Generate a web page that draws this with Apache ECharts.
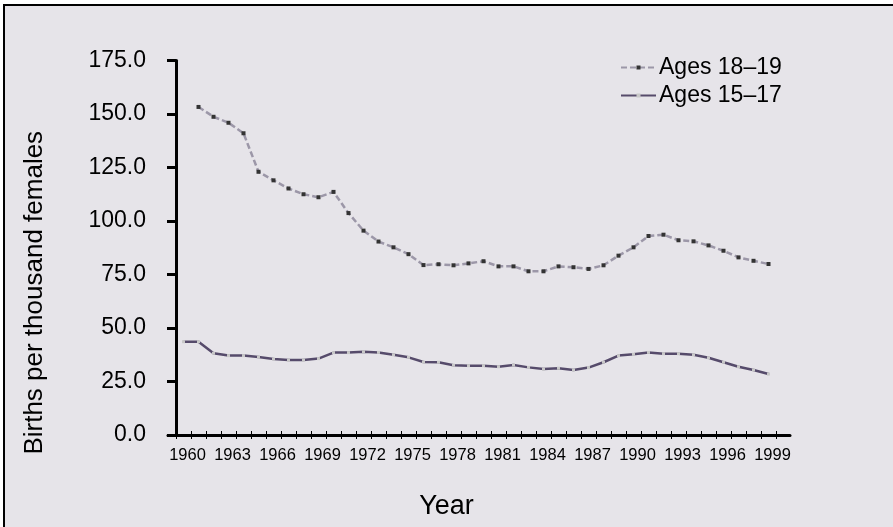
<!DOCTYPE html>
<html>
<head>
<meta charset="utf-8">
<script src="https://cdn.jsdelivr.net/npm/echarts@6/dist/echarts.min.js"></script>
<style>
  html, body { margin: 0; padding: 0; background: #ffffff; }
  #frame { position: absolute; left: 3px; top: 4px; width: 890px; height: 523px; box-sizing: border-box;
           border-top: 2px solid #000; border-left: 2px solid #000; background: #E6E4E9; }
  #chart { position: absolute; left: 0; top: 0; width: 893px; height: 527px; }
</style>
</head>
<body>
<div id="frame"></div>
<div id="chart"></div>
<script>
const years = ["1960","1961","1962","1963","1964","1965","1966","1967","1968","1969",
               "1970","1971","1972","1973","1974","1975","1976","1977","1978","1979",
               "1980","1981","1982","1983","1984","1985","1986","1987","1988","1989",
               "1990","1991","1992","1993","1994","1995","1996","1997","1998","1999"];
const ages1819 = [null,153.3,148.7,145.9,141.0,123.0,119.0,115.2,112.5,111.1,
                  113.6,103.7,95.5,90.4,87.7,84.5,79.4,79.8,79.3,80.2,
                  81.2,78.8,78.8,76.5,76.5,78.8,78.4,77.6,79.3,83.8,
                  87.7,93.0,93.6,91.0,90.5,88.6,86.1,83.0,81.4,79.9];
const ages1517 = [43.6,43.6,38.2,37.1,37.1,36.4,35.5,35.0,35.0,35.7,
                  38.5,38.5,38.9,38.6,37.5,36.3,34.1,34.0,32.6,32.4,
                  32.4,31.9,32.7,31.6,30.8,31.2,30.4,31.5,34.0,37.1,
                  37.7,38.6,38.0,38.0,37.5,36.1,34.0,31.9,30.4,28.5];
const seriesNames = ["Ages 18\u201319", "Ages 15\u201317"];
const yTicks = { min: 0, max: 175, interval: 25 };
const yTitle = "Births per thousand females";
const xTitle = "Year";

const FONT = "Liberation Sans, Arial, sans-serif";
const chart = echarts.init(document.getElementById('chart'), null, { renderer: 'canvas' });
chart.setOption({
  backgroundColor: 'transparent',
  animation: false,
  textStyle: { fontFamily: FONT, color: '#000' },
  title: {
    text: xTitle, left: 'center', top: 493, padding: 0,
    textStyle: { fontFamily: FONT, fontSize: 27, fontWeight: 'normal', color: '#000' }
  },
  legend: {
    data: seriesNames, orient: 'vertical', left: 620, top: 56, padding: 0,
    itemWidth: 35, itemHeight: 5, itemGap: 5,
    textStyle: { fontFamily: FONT, fontSize: 23, color: '#000', padding: [0,0,0,-2] }
  },
  grid: [
    { left: 176, right: 117, top: 60.5, bottom: 92, containLabel: false },
    { left: 168, right: 103, top: 60.5, bottom: 92, containLabel: false }
  ],
  xAxis: [
    {
      type: 'category', data: years, boundaryGap: true, gridIndex: 0,
      axisLine: { show: false },
      axisTick: { show: true, interval: 0, length: 4, lineStyle: { color: '#000', width: 1 } },
      axisLabel: { interval: 2, margin: 12, fontFamily: FONT, fontSize: 16.5, color: '#000',
                   padding: [0, 0, 0, 8] },
      splitLine: { show: false }
    },
    {
      type: 'category', data: years, boundaryGap: true, gridIndex: 0, position: 'bottom',
      axisLine: { show: false },
      axisTick: { show: true, inside: true, interval: 0, length: 4, lineStyle: { color: '#000', width: 1 } },
      axisLabel: { show: false }, splitLine: { show: false }
    },
    {
      type: 'value', gridIndex: 1, min: 0, max: 1, position: 'bottom',
      axisLine: { show: true, onZero: false, lineStyle: { color: '#000', width: 3 } },
      axisTick: { show: false }, axisLabel: { show: false }, splitLine: { show: false }
    }
  ],
  yAxis: [
    {
      type: 'value', gridIndex: 0, min: yTicks.min, max: yTicks.max, interval: yTicks.interval,
      name: yTitle, nameLocation: 'middle', nameRotate: 90, nameGap: 128,
      nameTextStyle: { fontFamily: FONT, fontSize: 26, color: '#000', padding: [0, 90, 0, 0] },
      axisLine: { show: true, lineStyle: { color: '#000', width: 3 } },
      axisTick: { show: true, length: 9, lineStyle: { color: '#000', width: 3 } },
      axisLabel: { margin: 30, fontFamily: FONT, fontSize: 23, color: '#000',
                   formatter: v => v.toFixed(1) },
      splitLine: { show: false }
    },
    {
      type: 'value', gridIndex: 1, min: 0, max: 1, show: false
    }
  ],
  series: [
    {
      name: seriesNames[0], type: 'line', data: ages1819, xAxisIndex: 0, yAxisIndex: 0,
      symbol: 'rect', symbolSize: 4, showAllSymbol: true,
      lineStyle: { color: '#9C97A8', width: 2.5, type: [6, 3] },
      itemStyle: { color: '#333333' }
    },
    {
      name: seriesNames[1], type: 'line', data: ages1517, xAxisIndex: 0, yAxisIndex: 0,
      symbol: 'rect', symbolSize: 3, showAllSymbol: true,
      lineStyle: { color: '#564B6B', width: 2.5, type: 'solid' },
      itemStyle: { color: '#C8C8C8' }
    }
  ]
});
</script>
</body>
</html>
